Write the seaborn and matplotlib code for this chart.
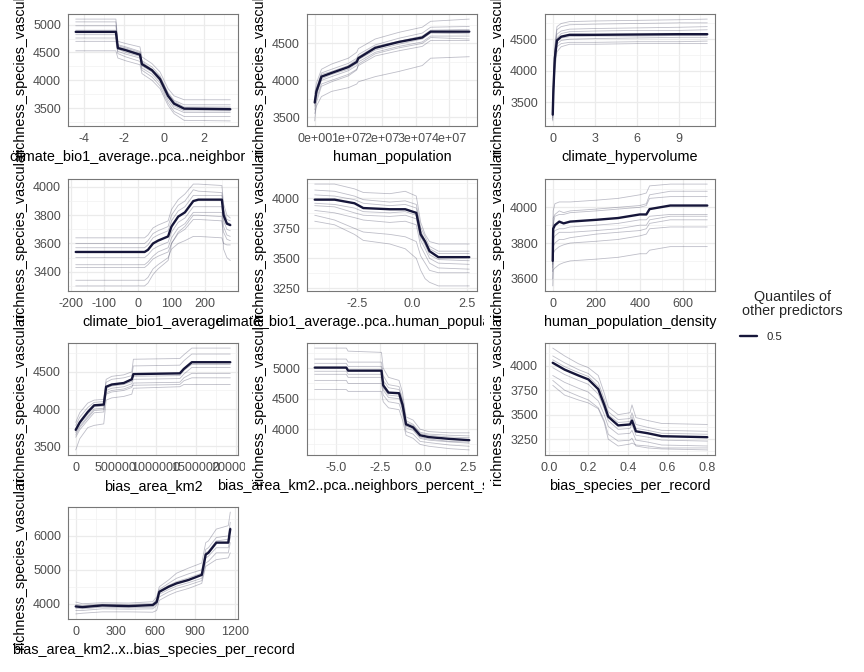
import numpy as np
import pandas as pd
import matplotlib
matplotlib.use('Agg')
import matplotlib.pyplot as plt
import matplotlib.ticker as mticker
from matplotlib.patches import Rectangle
from matplotlib.lines import Line2D
import seaborn as sns

sns.set_style('white')
plt.rcParams['font.family'] = ['Liberation Sans', 'DejaVu Sans']
plt.rcParams['axes.unicode_minus'] = False

response = 'richness_species_vascular'
predictors = ['climate_bio1_average..pca..neighbors_count', 'human_population', 'climate_hypervolume',
              'climate_bio1_average', 'climate_bio1_average..pca..human_population_density',
              'human_population_density', 'bias_area_km2',
              'bias_area_km2..pca..neighbors_percent_shared_edge', 'bias_species_per_record',
              'bias_area_km2..x..bias_species_per_record']
legend_title = 'Quantiles of\nother predictors'
legend_labels = ['0.5']

# panel 1
x1 = [-4.4, -2.4, -2.3, -1.9, -1.2, -1.1, -0.6, -0.2, 0.2, 0.5, 1.0, 3.3]
med1 = [4870, 4870, 4580, 4540, 4460, 4290, 4180, 4020, 3720, 3580, 3490, 3480]
thin1 = [[5100, 5100, 4700, 4660, 4600, 4420, 4300, 4150, 3850, 3720, 3650, 3650],
         [4980, 4980, 4640, 4600, 4520, 4350, 4240, 4080, 3780, 3640, 3560, 3560],
         [4760, 4760, 4520, 4470, 4400, 4220, 4110, 3950, 3650, 3500, 3420, 3420],
         [4700, 4700, 4480, 4420, 4340, 4180, 4060, 3900, 3600, 3440, 3350, 3350],
         [4530, 4530, 4400, 4350, 4280, 4120, 4000, 3850, 3550, 3400, 3280, 3270],
         [5050, 5050, 4620, 4580, 4500, 4330, 4200, 4060, 3760, 3620, 3520, 3520],
         [4820, 4820, 4560, 4500, 4430, 4260, 4150, 3990, 3700, 3540, 3450, 3450],
         [4900, 4900, 4600, 4560, 4480, 4310, 4190, 4040, 3740, 3600, 3500, 3500]]

# panel 2
x2 = [0, 0.05e7, 0.2e7, 0.5e7, 1.0e7, 1.25e7, 1.3e7, 1.8e7, 2.5e7, 3.2e7, 3.45e7, 4.6e7]
med2 = [3700, 3850, 4050, 4100, 4180, 4250, 4300, 4440, 4520, 4580, 4660, 4660]
thin2 = [[3820, 3960, 4150, 4220, 4300, 4380, 4430, 4560, 4650, 4720, 4800, 4830],
         [3750, 3900, 4100, 4150, 4230, 4300, 4350, 4480, 4570, 4640, 4720, 4730],
         [3650, 3800, 4000, 4050, 4130, 4200, 4250, 4380, 4460, 4520, 4600, 4600],
         [3600, 3750, 3950, 4000, 4080, 4150, 4200, 4330, 4400, 4460, 4540, 4540],
         [3550, 3650, 3780, 3850, 3900, 3950, 3980, 4050, 4120, 4200, 4300, 4320],
         [3700, 3870, 4080, 4120, 4200, 4280, 4320, 4460, 4530, 4600, 4680, 4690],
         [3680, 3820, 4020, 4080, 4150, 4230, 4280, 4410, 4490, 4560, 4640, 4630],
         [3450, 3700, 3920, 3980, 4060, 4140, 4220, 4360, 4440, 4500, 4580, 4560]]

# panel 3
x3 = [0, 0.05, 0.15, 0.3, 0.6, 1.2, 3, 6, 9, 11]
med3 = [3300, 3700, 4200, 4480, 4540, 4570, 4570, 4575, 4580, 4580]
thin3 = [[3400, 3900, 4400, 4700, 4750, 4780, 4790, 4800, 4810, 4820],
         [3350, 3800, 4300, 4580, 4630, 4660, 4670, 4680, 4690, 4700],
         [3250, 3650, 4150, 4420, 4480, 4500, 4510, 4520, 4530, 4530],
         [3200, 3600, 4100, 4380, 4430, 4450, 4450, 4460, 4460, 4470],
         [3220, 3550, 4000, 4300, 4380, 4420, 4420, 4430, 4430, 4430],
         [3300, 3750, 4250, 4520, 4590, 4620, 4630, 4640, 4640, 4650],
         [3280, 3680, 4180, 4460, 4520, 4540, 4550, 4550, 4560, 4560],
         [3350, 3850, 4350, 4650, 4700, 4730, 4740, 4750, 4760, 4760]]

# panel 4
x4 = [-185, 20, 30, 45, 60, 90, 100, 120, 140, 165, 180, 250, 255, 265, 275]
med4 = [3540, 3540, 3555, 3600, 3620, 3650, 3720, 3790, 3820, 3900, 3910, 3910, 3800, 3740, 3730]
thin4 = [[3640, 3640, 3660, 3710, 3730, 3760, 3840, 3910, 3950, 4020, 4020, 4010, 3880, 3800, 3780],
         [3600, 3600, 3620, 3670, 3690, 3720, 3800, 3870, 3900, 3980, 3970, 3960, 3840, 3770, 3760],
         [3500, 3500, 3520, 3560, 3580, 3610, 3680, 3750, 3780, 3860, 3860, 3860, 3760, 3700, 3690],
         [3450, 3450, 3470, 3510, 3540, 3570, 3640, 3710, 3740, 3820, 3820, 3820, 3720, 3660, 3650],
         [3340, 3340, 3360, 3420, 3450, 3500, 3560, 3600, 3620, 3650, 3650, 3640, 3600, 3590, 3590],
         [3300, 3300, 3320, 3380, 3420, 3480, 3600, 3680, 3720, 3800, 3800, 3790, 3560, 3500, 3480],
         [3570, 3570, 3590, 3640, 3660, 3690, 3760, 3830, 3860, 3940, 3940, 3940, 3820, 3750, 3740],
         [3430, 3430, 3450, 3490, 3510, 3540, 3600, 3670, 3700, 3770, 3770, 3760, 3680, 3630, 3620]]

# panel 5
x5 = [-4.4, -3.5, -2.6, -2.2, -1.0, -0.3, 0.2, 0.4, 0.6, 0.8, 1.2, 2.6]
med5 = [3990, 3990, 3960, 3920, 3910, 3910, 3880, 3700, 3640, 3560, 3510, 3510]
thin5 = [[4120, 4120, 4080, 4050, 4040, 4060, 4020, 3800, 3700, 3640, 3620, 3620],
         [4070, 4060, 4020, 3990, 3970, 3980, 3950, 3760, 3680, 3600, 3560, 3560],
         [3940, 3930, 3880, 3860, 3850, 3860, 3830, 3650, 3580, 3500, 3460, 3450],
         [3900, 3880, 3840, 3820, 3800, 3810, 3780, 3600, 3530, 3460, 3420, 3410],
         [3860, 3820, 3750, 3720, 3700, 3680, 3640, 3520, 3460, 3400, 3380, 3380],
         [3810, 3780, 3700, 3650, 3620, 3580, 3500, 3400, 3330, 3300, 3270, 3270],
         [4030, 4020, 3990, 3960, 3940, 3950, 3920, 3730, 3650, 3580, 3540, 3540],
         [3960, 3950, 3920, 3890, 3880, 3890, 3860, 3680, 3610, 3530, 3490, 3480]]

# panel 6
x6 = [0, 2, 10, 30, 50, 80, 200, 300, 400, 430, 445, 540, 710]
med6 = [3700, 3880, 3900, 3920, 3910, 3920, 3930, 3940, 3960, 3960, 3990, 4010, 4010]
thin6 = [[3750, 3980, 4020, 4030, 4030, 4030, 4040, 4050, 4070, 4080, 4120, 4130, 4130],
         [3720, 3940, 3960, 3980, 3970, 3980, 3990, 4000, 4010, 4020, 4070, 4090, 4090],
         [3680, 3850, 3870, 3880, 3880, 3890, 3900, 3910, 3930, 3930, 3950, 3960, 3960],
         [3640, 3780, 3800, 3820, 3820, 3830, 3850, 3860, 3870, 3880, 3910, 3930, 3930],
         [3600, 3740, 3760, 3780, 3790, 3800, 3810, 3820, 3840, 3850, 3880, 3890, 3890],
         [3560, 3650, 3660, 3680, 3690, 3700, 3710, 3720, 3740, 3740, 3760, 3780, 3780],
         [3700, 3900, 3950, 3960, 3960, 3970, 3980, 3990, 4000, 4010, 4050, 4060, 4060],
         [3660, 3820, 3840, 3860, 3860, 3860, 3870, 3880, 3900, 3900, 3930, 3950, 3950]]

# panel 7
x7 = [0, 50000, 150000, 230000, 350000, 380000, 450000, 600000, 700000, 720000,
      1300000, 1350000, 1450000, 1930000]
med7 = [3720, 3820, 3960, 4050, 4060, 4300, 4330, 4350, 4400, 4470, 4480, 4540, 4630, 4630]
thin7 = [[3820, 3950, 4080, 4120, 4130, 4400, 4440, 4460, 4500, 4670, 4680, 4730, 4820, 4820],
         [3780, 3890, 4020, 4090, 4100, 4360, 4400, 4420, 4450, 4580, 4590, 4650, 4740, 4740],
         [3680, 3770, 3900, 4000, 4010, 4250, 4280, 4300, 4340, 4400, 4410, 4470, 4560, 4560],
         [3620, 3720, 3850, 3950, 3960, 4200, 4230, 4250, 4290, 4350, 4360, 4420, 4480, 4480],
         [3450, 3600, 3750, 3780, 3800, 4120, 4150, 4170, 4200, 4280, 4300, 4330, 4330, 4330],
         [3700, 3800, 3930, 4030, 4040, 4280, 4310, 4330, 4370, 4440, 4450, 4520, 4600, 4600],
         [3650, 3750, 3880, 3980, 3990, 4220, 4250, 4270, 4310, 4320, 4330, 4380, 4420, 4420]]

# panel 8
x8 = [-6.2, -4.4, -4.3, -2.4, -2.3, -2.0, -1.4, -1.2, -1.0, -0.6, -0.2, 0.3, 1.5, 2.6]
med8 = [5010, 5010, 4960, 4960, 4720, 4600, 4590, 4400, 4080, 4030, 3900, 3870, 3840, 3820]
thin8 = [[5330, 5330, 5280, 5260, 5000, 4850, 4800, 4600, 4200, 4150, 4000, 3960, 3940, 3940],
         [5150, 5150, 5100, 5100, 4880, 4730, 4700, 4500, 4140, 4080, 3950, 3920, 3900, 3890],
         [4900, 4900, 4850, 4850, 4640, 4520, 4500, 4320, 4020, 3980, 3850, 3820, 3790, 3770],
         [4800, 4800, 4750, 4750, 4560, 4450, 4420, 4250, 3960, 3920, 3800, 3780, 3740, 3720],
         [4650, 4650, 4620, 4620, 4450, 4350, 4320, 4150, 3900, 3850, 3750, 3720, 3680, 3660],
         [5080, 5080, 5030, 5030, 4800, 4680, 4650, 4450, 4110, 4060, 3930, 3900, 3870, 3860],
         [4950, 4950, 4900, 4900, 4680, 4560, 4540, 4360, 4050, 4000, 3870, 3840, 3800, 3790]]

# panel 9
x9 = [0.02, 0.08, 0.15, 0.2, 0.25, 0.28, 0.3, 0.35, 0.41, 0.42, 0.44, 0.5, 0.57, 0.8]
med9 = [4030, 3960, 3900, 3860, 3760, 3600, 3480, 3390, 3400, 3440, 3330, 3310, 3280, 3270]
thin9 = [[4180, 4100, 4020, 3980, 3900, 3720, 3580, 3500, 3520, 3600, 3470, 3440, 3410, 3400],
         [4100, 4030, 3960, 3920, 3830, 3660, 3530, 3450, 3460, 3520, 3400, 3370, 3340, 3330],
         [3980, 3910, 3850, 3810, 3710, 3560, 3440, 3350, 3360, 3400, 3290, 3270, 3240, 3230],
         [3900, 3830, 3770, 3730, 3640, 3500, 3380, 3300, 3310, 3340, 3240, 3220, 3190, 3180],
         [3850, 3750, 3690, 3650, 3570, 3440, 3300, 3230, 3240, 3260, 3180, 3160, 3150, 3140],
         [3800, 3700, 3650, 3620, 3560, 3420, 3250, 3180, 3200, 3210, 3190, 3180, 3160, 3160],
         [4060, 3990, 3930, 3890, 3790, 3630, 3500, 3420, 3430, 3480, 3360, 3340, 3310, 3300]]

# panel 10
x10 = [0, 50, 200, 400, 580, 610, 630, 700, 760, 850, 950, 980, 1000, 1060, 1150, 1165]
med10 = [3920, 3900, 3950, 3930, 3960, 4050, 4350, 4500, 4600, 4700, 4850, 5450, 5500, 5800, 5800, 6200]
thin10 = [[4050, 4000, 4030, 4020, 4060, 4200, 4500, 4700, 4900, 5050, 5200, 5800, 5850, 6200, 6300, 6700],
          [3980, 3950, 3990, 3980, 4010, 4120, 4420, 4600, 4750, 4880, 5000, 5600, 5650, 5950, 6000, 6400],
          [3870, 3850, 3900, 3880, 3900, 4000, 4280, 4420, 4520, 4620, 4750, 5350, 5400, 5650, 5650, 5950],
          [3800, 3800, 3850, 3840, 3850, 3950, 4200, 4350, 4450, 4550, 4680, 5200, 5250, 5500, 5500, 5800],
          [3700, 3720, 3760, 3760, 3750, 3800, 4100, 4250, 4350, 4450, 4600, 5100, 5150, 5300, 5350, 5500],
          [3940, 3920, 3970, 3950, 3980, 4080, 4380, 4540, 4650, 4760, 4900, 5500, 5550, 5850, 5900, 6250]]

xs = [x1, x2, x3, x4, x5, x6, x7, x8, x9, x10]
meds = [med1, med2, med3, med4, med5, med6, med7, med8, med9, med10]
thins = [thin1, thin2, thin3, thin4, thin5, thin6, thin7, thin8, thin9, thin10]

# tick spacing and label format per panel
xstep = [2, 1e7, 3, 100, 2.5, 200, 500000, 2.5, 0.2, 300]
ystep = [500, 500, 500, 200, 250, 200, 500, 500, 250, 1000]
xfmt = ['%d', 'sci', '%d', '%d', '%.1f', '%d', '%d', '%.1f', '%.1f', '%d']

navy = '#16163a'
W, H = 864, 672
fig = plt.figure(figsize=(W / 100, H / 100), dpi=100)

col_left = [68, 307, 545]
row_top = [14, 179, 343, 507]
cell_left = [6, 245, 484]
cell_top = [5, 169, 333, 497]
pw, ph = 170, 112

for i in range(10):
    r, c = divmod(i, 3)
    # white background of each cell, drawn in order like stacked ggplot grobs
    fig.add_artist(Rectangle((cell_left[c] / W, 1 - (cell_top[r] + 164) / H), 239 / W, 164 / H,
                             transform=fig.transFigure, facecolor='white', edgecolor='none',
                             zorder=2 * i + 1))
    ax = fig.add_axes([col_left[c] / W, 1 - (row_top[r] + ph) / H, pw / W, ph / H])
    ax.set_zorder(2 * i + 2)

    rows = []
    for k, t in enumerate(thins[i]):
        for xv, yv in zip(xs[i], t):
            rows.append({'x': xv, 'y': yv, 'line': k})
    thin_df = pd.DataFrame(rows)
    sns.lineplot(data=thin_df, x='x', y='y', units='line', estimator=None, color=navy,
                 alpha=0.28, lw=0.6, ax=ax, legend=False)
    sns.lineplot(x=xs[i], y=meds[i], color=navy, lw=1.7, ax=ax, legend=False)

    ax.xaxis.set_major_locator(mticker.MultipleLocator(xstep[i]))
    ax.yaxis.set_major_locator(mticker.MultipleLocator(ystep[i]))
    ax.xaxis.set_minor_locator(mticker.AutoMinorLocator(2))
    ax.yaxis.set_minor_locator(mticker.AutoMinorLocator(2))
    if xfmt[i] == 'sci':
        ax.xaxis.set_major_formatter(mticker.FuncFormatter(lambda v, p: f'{v:.0e}'))
    else:
        ax.xaxis.set_major_formatter(mticker.FormatStrFormatter(xfmt[i]))
    ax.yaxis.set_major_formatter(mticker.FormatStrFormatter('%d'))

    ax.grid(which='major', color='#ebebeb', lw=0.9)
    ax.grid(which='minor', color='#f2f2f2', lw=0.5)
    ax.set_axisbelow(True)
    for sp in ax.spines.values():
        sp.set_color('#777777')
        sp.set_linewidth(0.8)
    ax.tick_params(which='major', length=3, width=0.6, color='#333333',
                   labelsize=9, labelcolor='#4d4d4d', pad=2)
    ax.tick_params(which='minor', length=0)
    ax.set_xlabel('')
    ax.set_ylabel('')
    ax.text(0.5, -31 / ph, predictors[i], transform=ax.transAxes, ha='center', va='center',
            fontsize=10.4, color='black', clip_on=False)
    ax.text(-48 / pw, 0.5, response, transform=ax.transAxes, ha='center', va='center',
            rotation=90, fontsize=10.4, color='black', clip_on=False)

# legend: title above, one key below
fig.text(792 / W, 1 - 304 / H, legend_title, ha='center', va='center',
         multialignment='center', fontsize=10.4, linespacing=1.05)
handle = Line2D([], [], color=navy, lw=1.7)
fig.legend(handles=[handle], labels=legend_labels, loc='center left',
           bbox_to_anchor=(740 / W, 1 - 337 / H), frameon=False, fontsize=8.2,
           handlelength=1.5, handletextpad=0.8, borderpad=0, borderaxespad=0)

fig.savefig('out.png', dpi=100, facecolor='white')
